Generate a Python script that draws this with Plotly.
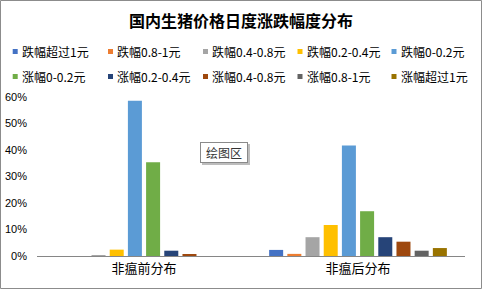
import plotly.graph_objects as go

categories = ["非瘟前分布", "非瘟后分布"]
series_names = ["跌幅超过1元", "跌幅0.8-1元", "跌幅0.4-0.8元", "跌幅0.2-0.4元", "跌幅0-0.2元",
                "涨幅0-0.2元", "涨幅0.2-0.4元", "涨幅0.4-0.8元", "涨幅0.8-1元", "涨幅超过1元"]
pre_values = [0.0, 0.0, 0.003, 0.024, 0.586, 0.354, 0.020, 0.005, 0.0, 0.0]
post_values = [0.023, 0.008, 0.071, 0.117, 0.417, 0.169, 0.071, 0.054, 0.020, 0.030]
colors = ["#4472C4", "#ED7D31", "#A5A5A5", "#FFC000", "#5B9BD5",
          "#70AD47", "#264478", "#9E480E", "#636363", "#997300"]
y_ticks = [0, 0.1, 0.2, 0.3, 0.4, 0.5, 0.6]

W, H = 482, 289
L, R, T, B = 37, 17, 97, 33
pw, ph = W - L - R, H - T - B


def px_x(px):
    return (px - L) / pw


def px_y(py):
    return (H - B - py) / ph


fig = go.Figure()
for name, a, b, c in zip(series_names, pre_values, post_values, colors):
    fig.add_trace(go.Bar(name=name, x=categories, y=[a, b], marker_color=c,
                         marker_line_width=0, showlegend=False))

font = "Noto Sans CJK SC"

shapes = [dict(type="rect", xref="paper", yref="paper",
               x0=px_x(0.5), x1=px_x(W - 0.5), y0=px_y(H - 0.5), y1=px_y(0.5),
               line=dict(color="#8c8c8c", width=1))]
annotations = []

# legend (two rows of five)
col_x = [12.7, 108.0, 203.0, 297.5, 391.5]
row_y = [51.5, 76.5]
for i, (name, c) in enumerate(zip(series_names, colors)):
    cx = col_x[i % 5]
    cy = row_y[i // 5]
    shapes.append(dict(type="rect", xref="paper", yref="paper",
                       x0=px_x(cx), x1=px_x(cx + 5), y0=px_y(cy + 2.5), y1=px_y(cy - 2.5),
                       fillcolor=c, line=dict(width=0)))
    annotations.append(dict(text=name, xref="paper", yref="paper", x=px_x(cx + 7),
                            y=px_y(cy), xanchor="left", yanchor="middle", showarrow=False,
                            font=dict(size=12, family=font, color="#000000")))

# "绘图区" tooltip box (shadow + box)
shapes.append(dict(type="rect", xref="paper", yref="paper",
                   x0=px_x(202), x1=px_x(250), y0=px_y(165), y1=px_y(144),
                   fillcolor="#bdbdbd", line=dict(width=0)))
annotations.append(dict(text="绘图区", xref="paper", yref="paper",
                        x=px_x(224), y=px_y(152), showarrow=False,
                        width=44, height=17,
                        bgcolor="white", bordercolor="#8a8a8a", borderwidth=1, borderpad=1,
                        font=dict(size=12, family=font, color="#333333")))

fig.update_layout(
    width=W, height=H,
    margin=dict(l=L, r=R, t=T, b=B, autoexpand=False),
    paper_bgcolor="white", plot_bgcolor="white",
    barmode="group", bargap=0.15, bargroupgap=0.23,
    font=dict(family=font, color="#000000"),
    showlegend=False,
    title=dict(text="<b>国内生猪价格日度涨跌幅度分布</b>", x=0.5, xanchor="center",
               y=1 - 21 / H, yanchor="middle", yref="container",
               font=dict(size=16, family=font, color="#000000")),
    xaxis=dict(showline=True, linecolor="#868686", linewidth=1, ticks="",
               automargin=False,
               tickfont=dict(size=13, family=font, color="#000000"), showgrid=False),
    yaxis=dict(range=[0, 0.6], tickvals=y_ticks, tickformat=".0%", showgrid=False,
               zeroline=False, showline=False, automargin=False, ticklabelstandoff=9,
               tickfont=dict(size=11, family="Liberation Sans", color="#000000")),
    shapes=shapes,
    annotations=annotations,
)

fig.write_html("out.html")
